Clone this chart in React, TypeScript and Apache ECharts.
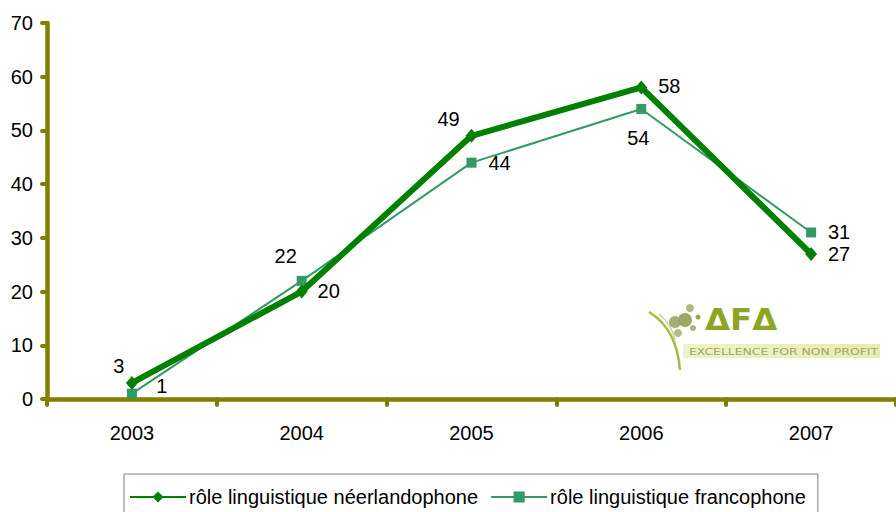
import React, { useEffect, useRef } from "react";
import * as echarts from "echarts";

const years = ["2003", "2004", "2005", "2006", "2007"];
const neerlandophone = [3, 20, 49, 58, 27];
const francophone = [1, 22, 44, 54, 31];
const seriesNames = ["rôle linguistique néerlandophone", "rôle linguistique francophone"];
const yTicks = { min: 0, max: 70, interval: 10 };

// label placement (pixel offsets from the point), styling only
const neerOffsets = [[-13, -17], [27, -1], [-23, -17], [28, -1], [28, 0]];
const francoOffsets = [[30, -8], [-16, -25], [28, 0], [-3, 29], [28, 0]];

const OLIVE = "#808000";
const FONT = "'Liberation Sans', Arial, sans-serif";
const FS = 20;

export default function App() {
  const ref = useRef<HTMLDivElement>(null);
  useEffect(() => {
    if (!ref.current) return;
    const chart = echarts.init(ref.current, null, { renderer: "svg" });
    const mk = (vals: number[], offs: number[][]) =>
      vals.map((v, i) => ({
        value: v,
        label: { offset: offs[i] },
      }));
    const labelBase = {
      show: true,
      position: "inside",
      color: "#000",
      fontSize: FS,
      fontFamily: FONT,
      align: "center",
      verticalAlign: "middle",
    };
    chart.setOption({
      animation: false,
      backgroundColor: "#fff",
      textStyle: { fontFamily: FONT },
      grid: { left: 47, top: 23, bottom: 113, width: 856 },
      xAxis: {
        type: "category",
        data: years,
        boundaryGap: true,
        axisLine: { lineStyle: { color: OLIVE, width: 4.5, cap: "round" } },
        axisTick: { show: true, length: 6, lineStyle: { color: OLIVE, width: 4, cap: "round" } },
        axisLabel: { color: "#000", fontSize: FS, fontFamily: FONT, margin: 24 },
        splitLine: { show: false },
      },
      yAxis: {
        type: "value",
        min: yTicks.min,
        max: yTicks.max,
        interval: yTicks.interval,
        axisLine: { show: true, lineStyle: { color: OLIVE, width: 4.5, cap: "round" } },
        axisTick: { show: true, length: 5, lineStyle: { color: OLIVE, width: 4, cap: "round" } },
        axisLabel: { color: "#000", fontSize: FS, fontFamily: FONT, margin: 14 },
        splitLine: { show: false },
      },
      legend: {
        top: 474,
        left: 124,
        itemGap: 12,
        itemWidth: 56,
        itemHeight: 14,
        borderColor: "#808080",
        borderWidth: 1,
        borderRadius: 0,
        padding: [13, 12, 20, 5],
        textStyle: { color: "#000", fontSize: FS, fontFamily: FONT, padding: [0, 0, 0, -2] },
        data: seriesNames,
      },
      series: [
        {
          name: seriesNames[1],
          type: "line",
          data: mk(francophone, francoOffsets),
          symbol: "rect",
          symbolSize: 10,
          lineStyle: { color: "#339966", width: 2 },
          itemStyle: { color: "#339966" },
          label: labelBase,
          z: 2,
        },
        {
          name: seriesNames[0],
          type: "line",
          data: mk(neerlandophone, neerOffsets),
          symbol: "diamond",
          symbolSize: [12, 14],
          lineStyle: { color: "#008000", width: 6 },
          itemStyle: { color: "#008000" },
          label: labelBase,
          z: 3,
        },
      ],
      graphic: [
        {
          type: "group",
          x: 645,
          y: 300,
          children: [
            {
              type: "bezierCurve",
              shape: { x1: 4, y1: 12, cpx1: 24, cpy1: 24, cpx2: 33, cpy2: 45, x2: 35, y2: 70 },
              style: { stroke: "#aab84a", lineWidth: 2.5, fill: null },
            },
            {
              type: "bezierCurve",
              shape: { x1: 14, y1: 14, cpx1: 24, cpy1: 22, cpx2: 28, cpy2: 30, x2: 30, y2: 40 },
              style: { stroke: "#c9d28a", lineWidth: 1.5, fill: null },
            },
            {
              type: "rect",
              shape: { x: 38, y: 44, width: 197, height: 14 },
              style: {
                fill: new echarts.graphic.LinearGradient(0, 0, 1, 0, [
                  { offset: 0, color: "#eef2c8" },
                  { offset: 1, color: "#e6ecb4" },
                ]),
              },
            },
            { type: "circle", shape: { cx: 30, cy: 22, r: 6 }, style: { fill: "#a6ae72" } },
            { type: "circle", shape: { cx: 40, cy: 20, r: 7 }, style: { fill: "#9ea865" } },
            { type: "circle", shape: { cx: 45, cy: 8, r: 4 }, style: { fill: "#b0b882" } },
            { type: "circle", shape: { cx: 33, cy: 33, r: 4 }, style: { fill: "#b4bc88" } },
            { type: "circle", shape: { cx: 48, cy: 28, r: 3 }, style: { fill: "#aab272" } },
            { type: "circle", shape: { cx: 53, cy: 17, r: 2.5 }, style: { fill: "#98a450" } },
            {
              type: "text",
              x: 60,
              y: 4,
              style: {
                text: "ΔFΔ",
                fontSize: 30,
                fontWeight: "bold",
                fontFamily: "'DejaVu Sans', sans-serif",
                fill: "#8ea425",
              },
              scaleX: 1.08,
            },
            {
              type: "text",
              x: 44,
              y: 48,
              scaleX: 1.55,
              style: {
                text: "EXCELLENCE FOR NON PROFIT",
                fontSize: 8,
                fontFamily: "'DejaVu Sans', sans-serif",
                fill: "#a2a85a",
              },
            },
          ],
        },
      ],
    });
    return () => chart.dispose();
  }, []);
  return (
    <div
      ref={ref}
      style={{ position: "fixed", left: 0, top: 0, width: 896, height: 512, overflow: "hidden" }}
    />
  );
}
